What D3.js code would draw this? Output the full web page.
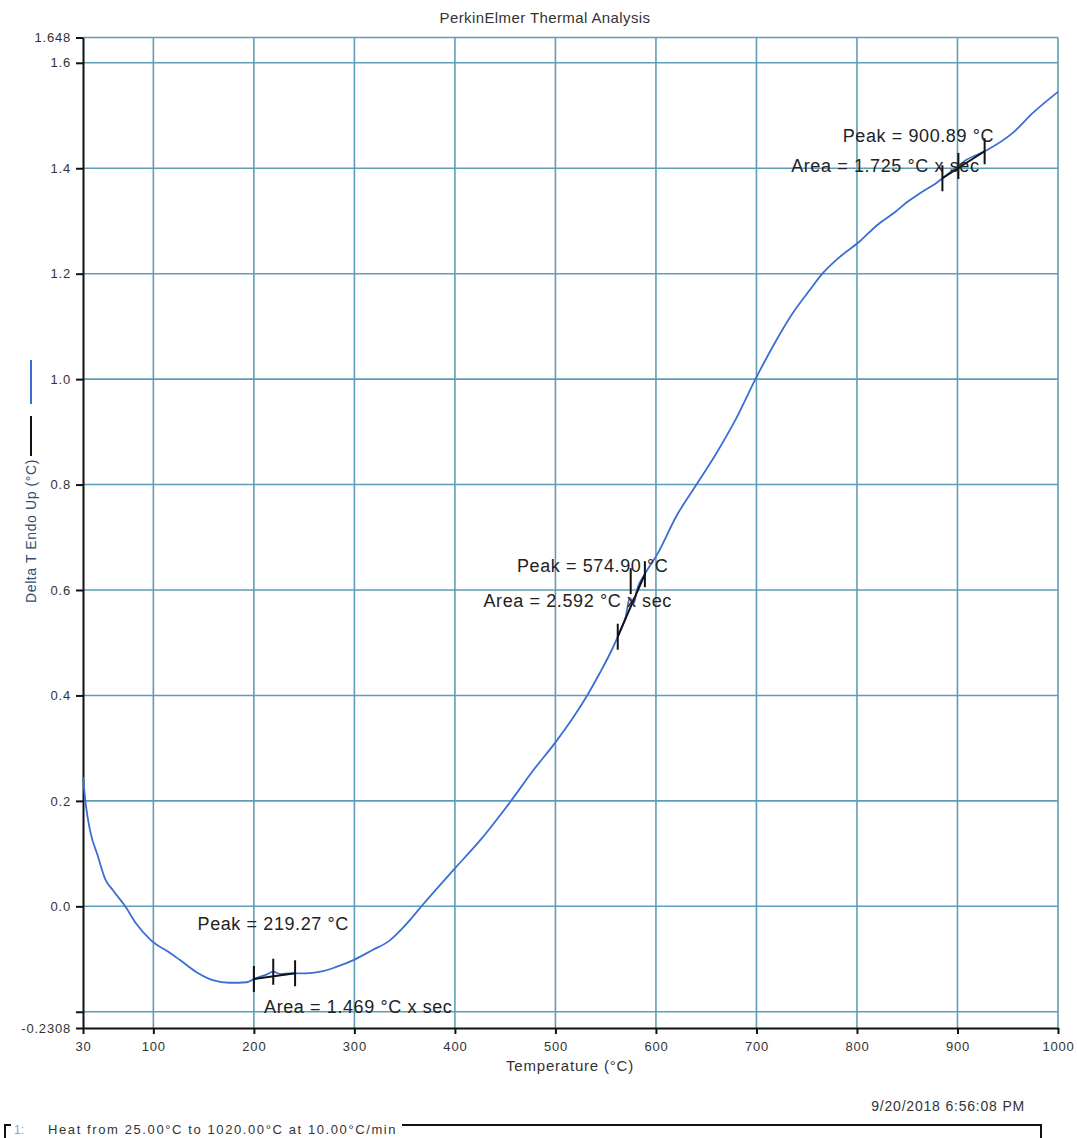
<!DOCTYPE html>
<html>
<head>
  <title>PerkinElmer Thermal Analysis</title>
  <script src="https://d3js.org/d3.v7.min.js"></script>
  <style>
    body { margin: 0; background: #fff; }
    svg { display: block; font-family: "Liberation Sans", Arial, sans-serif; }
    .grid line { stroke: #5f9db6; stroke-width: 1.6px; }
    .axis path, .axis line { stroke: #111; stroke-width: 2px; }
    .axis text { fill: #333; font-size: 13px; letter-spacing: 0.8px; }
    .curve { fill: none; stroke: #3a6fd2; stroke-width: 1.8px; }
    .mark { stroke: #111; stroke-width: 2px; }
    .note { fill: #222; font-size: 18px; letter-spacing: 0.6px; }
  </style>
</head>
<body>
  <svg id="chart" width="1077" height="1138"></svg>

  <script>
    // temperature (°C) and Delta T (°C)
    const temps = [30, 33, 37, 45, 52, 60, 72, 83, 98, 117, 126.5, 143, 159, 176, 193, 201, 213, 219, 226, 236,
      252, 269, 282, 299, 318, 335, 352, 368, 400, 425, 455, 478, 500, 518, 531, 544, 557, 564, 570, 574,
      578, 581, 589, 602, 620, 640, 660, 680, 699, 716, 736, 753, 766, 783, 802, 820, 838, 850, 863, 879,
      893, 909, 929, 955, 975, 1000];
    const deltaT = [0.245, 0.19, 0.144, 0.094, 0.052, 0.03, 0.0, -0.033, -0.065, -0.089, -0.102, -0.125, -0.14, -0.145, -0.144, -0.137, -0.129, -0.124, -0.128, -0.127,
      -0.127, -0.123, -0.115, -0.102, -0.083, -0.065, -0.033, 0.003, 0.072, 0.125, 0.198, 0.258, 0.311, 0.359, 0.398, 0.442, 0.49, 0.52, 0.55, 0.585,
      0.575, 0.6, 0.63, 0.67, 0.739, 0.799, 0.859, 0.926, 1.0, 1.061, 1.125, 1.169, 1.201, 1.232, 1.26, 1.292, 1.317, 1.336, 1.353, 1.372,
      1.393, 1.416, 1.434, 1.467, 1.505, 1.545];

    const xTicks = [30, 100, 200, 300, 400, 500, 600, 700, 800, 900, 1000];
    const yTicks = [-0.2308, -0.2, 0.0, 0.2, 0.4, 0.6, 0.8, 1.0, 1.2, 1.4, 1.6, 1.648];
    const yTickLabels = ["-0.2308", "", "0.0", "0.2", "0.4", "0.6", "0.8", "1.0", "1.2", "1.4", "1.6", "1.648"];

    // peak analyses: start, peak, end temperature and labels
    const peakStart = [200, 562, 885];
    const peakTemp = [219.27, 574.90, 900.89];
    const peakEnd = [241, 589, 927];
    const peakLabels = ["Peak = 219.27 °C", "Peak = 574.90 °C", "Peak = 900.89 °C"];
    const areaLabels = ["Area = 1.469 °C x sec", "Area = 2.592 °C x sec", "Area = 1.725 °C x sec"];

    const svg = d3.select("#chart");
    const margin = { top: 37.5, right: 19, bottom: 110, left: 83 };
    const width = +svg.attr("width") - margin.left - margin.right;
    const height = +svg.attr("height") - margin.top - margin.bottom;

    const x = d3.scaleLinear().domain([30, 1000]).range([0, width]);
    const y = d3.scaleLinear().domain([-0.2308, 1.648]).range([height, 0]);

    const g = svg.append("g").attr("transform", `translate(${margin.left},${margin.top})`);

    // grid
    const grid = g.append("g").attr("class", "grid");
    grid.selectAll(".gx").data(xTicks.filter(d => d !== 30)).enter().append("line")
      .attr("x1", d => x(d)).attr("x2", d => x(d)).attr("y1", 0).attr("y2", height);
    grid.selectAll(".gy").data(yTicks.filter(d => d !== -0.2308)).enter().append("line")
      .attr("x1", 0).attr("x2", width).attr("y1", d => y(d)).attr("y2", d => y(d));

    // axes
    g.append("g").attr("class", "axis")
      .attr("transform", `translate(0,${height})`)
      .call(d3.axisBottom(x).tickValues(xTicks).tickSize(6).tickSizeOuter(0).tickPadding(8).tickFormat(d3.format("d")));
    g.append("g").attr("class", "axis")
      .call(d3.axisLeft(y).tickValues(yTicks).tickSize(7).tickSizeOuter(0).tickPadding(5)
        .tickFormat((d, i) => yTickLabels[i]));

    // trace
    const pts = temps.map((t, i) => [t, deltaT[i]]);
    g.append("path").datum(pts).attr("class", "curve")
      .attr("d", d3.line().x(d => x(d[0])).y(d => y(d[1])).curve(d3.curveMonotoneX));

    const valueAt = t => {
      const i = Math.max(1, d3.bisectLeft(temps, t));
      const t0 = temps[i - 1], t1 = temps[i];
      return deltaT[i - 1] + (deltaT[i] - deltaT[i - 1]) * (t - t0) / (t1 - t0);
    };

    // label offsets from the peak marker (px)
    const labelOffsets = [
      { px: 0, py: -48, ax: 85, ay: 35, lift: 0 },
      { px: -38, py: -33, ax: -53, ay: 2, lift: 18 },
      { px: -40, py: -30, ax: -73, ay: 0, lift: 0 }
    ];

    peakTemp.forEach((p, i) => {
      const a = g.append("g");
      const o = labelOffsets[i];
      const ts = [peakStart[i], p, peakEnd[i]];
      a.append("line").attr("class", "mark").attr("stroke-width", 1.5)
        .attr("x1", x(ts[0])).attr("y1", y(valueAt(ts[0])))
        .attr("x2", x(ts[2])).attr("y2", y(valueAt(ts[2])));
      ts.forEach((t, k) => {
        const cy = y(valueAt(t)) - (k === 1 ? o.lift : 0);
        a.append("line").attr("class", "mark")
          .attr("x1", x(t)).attr("x2", x(t))
          .attr("y1", cy - 13).attr("y2", cy + 13);
      });
      const px = x(p), py = y(valueAt(p));
      a.append("text").attr("class", "note").attr("text-anchor", "middle")
        .attr("x", px + o.px).attr("y", py + o.py).attr("dy", "0.35em").text(peakLabels[i]);
      a.append("text").attr("class", "note").attr("text-anchor", "middle")
        .attr("x", px + o.ax).attr("y", py + o.ay).attr("dy", "0.35em").text(areaLabels[i]);
    });

    // titles
    svg.append("text").attr("x", 545).attr("y", 23)
      .attr("text-anchor", "middle").attr("font-size", 15).attr("letter-spacing", 0.4).attr("fill", "#333")
      .text("PerkinElmer Thermal Analysis");
    svg.append("text").attr("x", 570).attr("y", margin.top + height + 43)
      .attr("text-anchor", "middle").attr("font-size", 15).attr("letter-spacing", 0.8).attr("fill", "#333")
      .text("Temperature (°C)");

    // y axis title with trace key
    const yl = svg.append("g").attr("transform", "translate(31,0)");
    yl.append("line").attr("y1", 360).attr("y2", 404).attr("stroke", "#3a6fd2").attr("stroke-width", 2);
    yl.append("line").attr("y1", 416).attr("y2", 456).attr("stroke", "#111").attr("stroke-width", 2);
    yl.append("text").attr("transform", "translate(5,531) rotate(-90)")
      .attr("text-anchor", "middle").attr("font-size", 14).attr("letter-spacing", 0.6).attr("fill", "#2d4f73")
      .text("Delta T Endo Up (°C)");

    // footer
    svg.append("text").attr("x", 1025).attr("y", 1111).attr("text-anchor", "end")
      .attr("font-size", 14).attr("fill", "#333").attr("letter-spacing", 0.8)
      .text("9/20/2018 6:56:08 PM");
    const f = svg.append("g");
    f.append("path").attr("fill", "none").attr("stroke", "#111").attr("stroke-width", 2)
      .attr("d", "M11,1125H5V1145");
    f.append("path").attr("fill", "none").attr("stroke", "#111").attr("stroke-width", 2)
      .attr("d", "M402,1125H1041V1145");
    f.append("text").attr("x", 14).attr("y", 1134).attr("font-size", 12).attr("fill", "#8aa0c8").text("1:");
    f.append("text").attr("x", 48).attr("y", 1134).attr("font-size", 13).attr("fill", "#333")
      .attr("letter-spacing", 1.6).text("Heat from 25.00°C to 1020.00°C at 10.00°C/min");
  </script>
</body>
</html>
